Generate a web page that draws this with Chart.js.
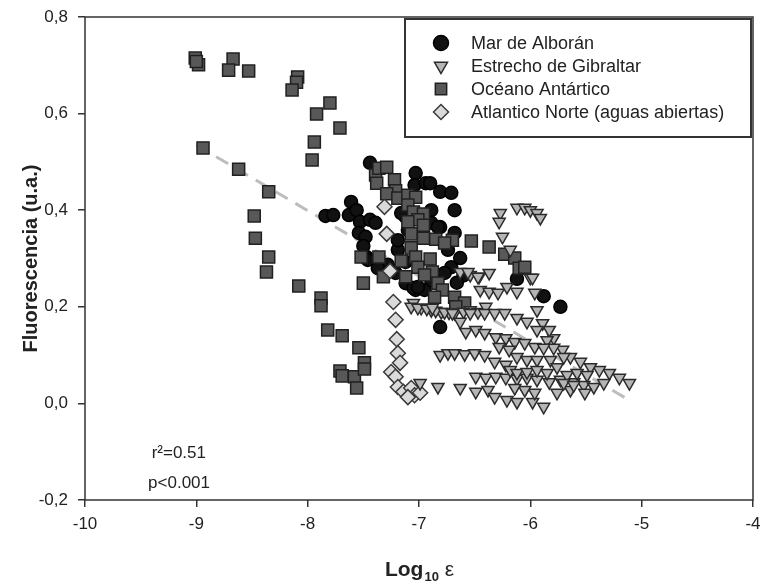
<!DOCTYPE html>
<html>
<head>
<meta charset="utf-8">
<script src="https://cdn.jsdelivr.net/npm/chart.js@4.4.0/dist/chart.umd.min.js"></script>
<style>
  html, body { margin: 0; padding: 0; background: #fff; }
  canvas { display: block; }
</style>
</head>
<body>
<canvas id="chart" width="763" height="588"></canvas>
<script>
// Log10 of dissipation rate (x) vs fluorescence (y), one list per region
const alboran = [
  [-7.44,0.498],[-7.03,0.477],[-7.04,0.452],[-6.94,0.456],[-6.90,0.456],[-6.81,0.438],
  [-6.71,0.436],[-6.68,0.400],[-7.61,0.417],[-7.84,0.388],[-7.77,0.390],[-7.63,0.390],
  [-7.56,0.400],[-7.53,0.376],[-7.44,0.380],[-7.39,0.374],[-7.54,0.353],[-7.48,0.345],
  [-7.50,0.326],[-7.47,0.303],[-6.89,0.400],[-6.89,0.374],[-6.81,0.365],[-6.83,0.365],
  [-7.12,0.386],[-7.16,0.394],[-7.19,0.318],[-7.12,0.293],[-6.68,0.353],[-6.74,0.318],
  [-6.63,0.301],[-6.71,0.282],[-7.21,0.270],[-7.12,0.249],[-7.03,0.235],[-7.28,0.287],
  [-7.37,0.280],[-6.12,0.258],[-5.88,0.222],[-5.73,0.200],[-6.81,0.158],[-7.05,0.239],
  [-6.95,0.235],[-7.46,0.297],[-7.19,0.338],[-7.10,0.359],[-6.89,0.255],[-6.77,0.270],
  [-7.01,0.241],[-6.60,0.265],[-6.66,0.250]
];

const gibraltar = [
  [-6.27,0.394],[-6.28,0.376],[-6.25,0.345],[-6.12,0.405],[-6.05,0.405],[-6.00,0.400],
  [-5.94,0.394],[-5.91,0.384],[-6.18,0.318],[-6.00,0.260],[-5.96,0.229],
  [-6.63,0.272],[-6.54,0.266],[-6.46,0.262],[-6.37,0.270],[-7.05,0.208],[-6.98,0.198],
  [-7.07,0.200],[-7.01,0.198],[-6.89,0.193],[-6.80,0.189],[-6.68,0.187],[-6.54,0.193],
  [-6.47,0.189],[-6.40,0.200],[-6.93,0.196],[-6.85,0.192],[-6.73,0.188],[-6.60,0.190],
  [-6.81,0.100],[-6.74,0.104],[-6.68,0.104],[-6.59,0.102],[-6.50,0.104],[-6.41,0.100],
  [-6.32,0.086],[-6.22,0.080],
  [-6.49,0.055],[-6.40,0.053],[-6.31,0.055],[-6.22,0.053],[-6.12,0.051],[-6.03,0.053],
  [-5.94,0.049],[-5.83,0.044],[-5.73,0.049],[-5.61,0.044],[-5.52,0.038],[-5.43,0.034],
  [-5.34,0.042],
  [-6.99,0.042],[-6.83,0.034],[-6.63,0.032],[-6.49,0.024],[-6.38,0.028],[-6.32,0.013],
  [-6.21,0.007],[-6.12,0.003],[-5.98,0.003],[-5.88,-0.007],[-5.76,0.022],[-5.64,0.028],
  [-5.51,0.022],
  [-5.11,0.042],[-5.20,0.053],[-5.29,0.063],[-5.38,0.069],[-5.46,0.075],[-5.55,0.086],
  [-5.64,0.096],[-5.71,0.111],[-5.79,0.135],[-5.83,0.152],[-5.89,0.166],[-5.94,0.193],
  [-5.98,0.260],
  [-6.56,0.272],[-6.47,0.262],[-6.45,0.235],[-6.37,0.231],[-6.29,0.229],[-6.21,0.241],
  [-6.12,0.231],[-6.88,0.198],[-6.77,0.189],[-6.70,0.187],[-6.63,0.169],[-6.54,0.187],
  [-6.41,0.187],[-6.32,0.187],[-6.23,0.187],[-6.12,0.177],[-6.03,0.169],[-5.94,0.152],
  [-5.85,0.131],[-5.79,0.115],[-5.70,0.096],[-6.58,0.148],[-6.49,0.152],[-6.41,0.146],
  [-6.31,0.137],[-6.22,0.135],[-6.14,0.127],[-6.05,0.125],[-5.96,0.117],[-5.88,0.115],
  [-6.28,0.117],[-6.19,0.111],[-6.12,0.096],[-6.03,0.090],[-5.94,0.090],[-5.82,0.090],
  [-5.76,0.075],[-6.18,0.069],[-6.12,0.063],[-6.03,0.065],[-5.94,0.069],[-5.85,0.063],
  [-5.67,0.059],[-5.58,0.063],[-5.49,0.059],[-5.70,0.042],[-5.61,0.038],[-5.96,0.022],
  [-6.05,0.028],[-6.14,0.032]
];

const antartico = [
  [-9.01,0.715],[-8.98,0.701],[-9.00,0.708],[-8.67,0.713],[-8.71,0.690],[-8.53,0.688],
  [-8.09,0.676],[-8.10,0.665],[-8.14,0.649],[-7.80,0.622],[-7.92,0.599],[-7.71,0.570],
  [-7.94,0.541],[-7.96,0.504],[-8.94,0.529],[-8.62,0.485],[-8.35,0.438],[-8.48,0.388],
  [-8.47,0.342],[-8.35,0.303],[-8.37,0.272],[-8.08,0.243],[-7.88,0.218],[-7.88,0.202],
  [-7.82,0.152],[-7.69,0.140],[-7.54,0.115],[-7.49,0.084],[-7.71,0.067],[-7.69,0.057],
  [-7.58,0.055],[-7.56,0.032],[-7.49,0.071],[-7.52,0.303],[-7.36,0.303],[-7.32,0.262],
  [-7.50,0.249],
  [-7.39,0.473],[-7.36,0.487],[-7.29,0.489],[-7.38,0.456],[-7.22,0.463],[-7.21,0.440],
  [-7.29,0.434],[-7.19,0.425],[-7.10,0.431],[-7.03,0.427],[-7.10,0.411],[-7.05,0.396],
  [-6.96,0.392],[-7.01,0.380],[-6.96,0.369],[-7.10,0.376],[-7.07,0.351],[-6.96,0.342],
  [-6.85,0.340],[-6.70,0.338],[-6.77,0.332],[-7.07,0.322],[-7.03,0.303],[-7.16,0.295],
  [-6.90,0.299],[-7.01,0.282],[-6.88,0.272],[-7.12,0.262],[-6.95,0.266],[-6.83,0.249],
  [-6.79,0.235],[-6.68,0.220],[-6.59,0.208],[-6.67,0.200],[-6.86,0.220],[-6.53,0.336],
  [-6.37,0.324],[-6.23,0.309],[-6.14,0.301],[-6.10,0.280],[-6.05,0.282]
];

const atlantico = [
  [-7.31,0.407],[-7.29,0.351],[-7.26,0.274],[-7.23,0.210],[-7.21,0.173],[-7.20,0.133],
  [-7.19,0.104],[-7.17,0.084],[-7.25,0.065],[-7.21,0.055],[-7.19,0.034],[-7.14,0.024],
  [-7.07,0.032],[-7.04,0.017],[-6.99,0.022],[-7.10,0.013]
];

// fitted regression, end points
const fitLine = [[-9.0, 0.535], [-5.1, 0.005]];

const seriesNames = ["Mar de Alborán", "Estrecho de Gibraltar", "Océano Antártico", "Atlantico Norte (aguas abiertas)"];
const xTicks = [-10, -9, -8, -7, -6, -5, -4];
const yTicks = [-0.2, 0.0, 0.2, 0.4, 0.6, 0.8];
const statsText = ["r²=0.51", "p<0.001"];

const FONT = "'Liberation Sans', Arial, sans-serif";

const toPts = arr => arr.map(([x, y]) => ({ x, y }));

const styles = [
  { pointStyle: "circle",   radius: 6.5, rotation: 0,   bg: "#111111", border: "#000000", order: 5 },
  { pointStyle: "triangle", radius: 7,   rotation: 180, bg: "#b5b5b5", border: "#2b2b2b", order: 1 },
  { pointStyle: "rect",     radius: 8.5, rotation: 0,   bg: "#585858", border: "#202020", order: 3 },
  { pointStyle: "rectRot",  radius: 7.5, rotation: 0,   bg: "#dadada", border: "#3a3a3a", order: 2 }
];
const legendSizes = [7.5, 7.5, 8, 7.5];

const allSeries = [alboran, gibraltar, antartico, atlantico];

const datasets = allSeries.map((arr, i) => ({
  label: seriesNames[i],
  data: toPts(arr),
  pointStyle: styles[i].pointStyle,
  pointRadius: styles[i].radius,
  pointRotation: styles[i].rotation,
  backgroundColor: styles[i].bg,
  borderColor: styles[i].border,
  borderWidth: 1.5,
  order: styles[i].order
}));

datasets.push({
  type: "line",
  label: "fit",
  data: toPts(fitLine),
  borderColor: "#bdbdbd",
  borderWidth: 3,
  borderDash: [14, 9],
  pointRadius: 0,
  fill: false,
  order: 9
});

const decor = {
  id: "decor",
  afterDatasetsDraw(chart) {
    const { ctx, chartArea: a } = chart;
    ctx.save();

    // plot frame
    ctx.strokeStyle = "#333";
    ctx.lineWidth = 1.5;
    ctx.strokeRect(a.left, a.top, a.right - a.left, a.bottom - a.top);

    // legend box
    const lx = 405, ly = 19, lw = 346, lh = 118;
    ctx.fillStyle = "#fff";
    ctx.fillRect(lx, ly, lw, lh);
    ctx.lineWidth = 2;
    ctx.strokeStyle = "#333";
    ctx.strokeRect(lx, ly, lw, lh);

    ctx.font = "18px " + FONT;
    ctx.textBaseline = "middle";
    ctx.textAlign = "left";
    const rows = [43, 66, 89, 112];
    seriesNames.forEach((name, i) => {
      ctx.fillStyle = styles[i].bg;
      ctx.strokeStyle = styles[i].border;
      ctx.lineWidth = 1.5;
      Chart.helpers.drawPoint(ctx, {
        pointStyle: styles[i].pointStyle,
        radius: legendSizes[i],
        rotation: styles[i].rotation,
        borderWidth: 1.5
      }, 441, rows[i]);
      ctx.fillStyle = "#222";
      ctx.fillText(name, 471, rows[i] + 1);
    });

    // statistics
    ctx.font = "17px " + FONT;
    ctx.textAlign = "right";
    ctx.fillStyle = "#222";
    ctx.fillText(statsText[0], 206, 453);
    ctx.fillText(statsText[1], 210, 483);

    // y axis title
    ctx.save();
    ctx.translate(31, (a.top + a.bottom) / 2);
    ctx.rotate(-Math.PI / 2);
    ctx.font = "bold 20px " + FONT;
    ctx.textAlign = "center";
    ctx.fillText("Fluorescencia (u.a.)", 0, 0);
    ctx.restore();

    // x axis title: Log10 ε
    const base = "bold 21px " + FONT, sub = "bold 13px " + FONT, eps = "21px " + FONT;
    ctx.textAlign = "left";
    ctx.font = base; const w1 = ctx.measureText("Log").width;
    ctx.font = sub;  const w2 = ctx.measureText("10").width;
    ctx.font = eps;  const w3 = ctx.measureText(" ε").width;
    let x0 = (a.left + a.right) / 2 - (w1 + w2 + w3) / 2;
    const ty = 570;
    ctx.font = base; ctx.fillText("Log", x0, ty);
    ctx.font = sub;  ctx.fillText("10", x0 + w1 + 1, ty + 7);
    ctx.font = eps;  ctx.fillText(" ε", x0 + w1 + w2 + 1, ty);

    ctx.restore();
  }
};

new Chart(document.getElementById("chart"), {
  type: "scatter",
  data: { datasets },
  options: {
    responsive: false,
    animation: false,
    layout: { padding: { top: 17, right: 6, left: 0, bottom: 0 } },
    plugins: { legend: { display: false }, tooltip: { enabled: false } },
    scales: {
      x: {
        type: "linear",
        min: xTicks[0],
        max: xTicks[xTicks.length - 1],
        afterBuildTicks: s => { s.ticks = xTicks.map(v => ({ value: v })); },
        afterFit: s => { s.height = 88; s.paddingLeft = 0; s.paddingRight = 0; },
        border: { display: false },
        grid: { drawOnChartArea: false, drawTicks: true, tickLength: 7, color: "#333", lineWidth: 1.5 },
        ticks: {
          font: { family: FONT, size: 17 },
          color: "#222",
          padding: 7,
          maxRotation: 0,
          callback: v => String(v)
        }
      },
      y: {
        type: "linear",
        min: yTicks[0],
        max: yTicks[yTicks.length - 1],
        afterBuildTicks: s => { s.ticks = yTicks.map(v => ({ value: v })); },
        afterFit: s => { s.width = 85; s.paddingTop = 0; s.paddingBottom = 0; },
        border: { display: false },
        grid: { drawOnChartArea: false, drawTicks: true, tickLength: 7, color: "#333", lineWidth: 1.5 },
        ticks: {
          font: { family: FONT, size: 17 },
          color: "#222",
          padding: 10,
          callback: v => v.toFixed(1).replace(".", ",")
        }
      }
    }
  },
  plugins: [decor]
});
</script>
</body>
</html>
